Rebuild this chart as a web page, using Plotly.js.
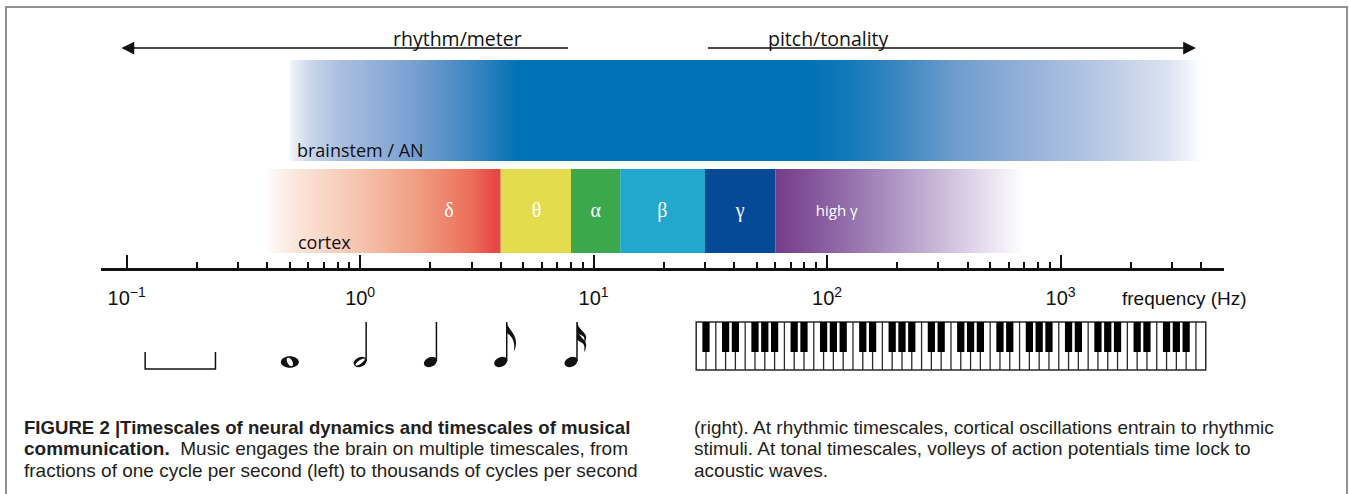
<!DOCTYPE html>
<html><head><meta charset="utf-8">
<script src="https://cdn.plot.ly/plotly-3.0.1.min.js"></script>
<style>html,body{margin:0;padding:0;background:#fff}#chart{width:1349px;height:494px}</style>
</head><body><div id="chart"></div>
<script>
// ---------------- data ----------------
const bandNames   = ['δ', 'θ', 'α', 'β', 'γ', 'high γ'];
const bandLowHz   = [0.4, 4, 8, 13, 30, 60];
const bandHighHz  = [4, 8, 13, 30, 60, 700];
const bandColors  = ['#e64a45', '#e3dd4d', '#3ba84e', '#22a8cd', '#054a96', '#763c8a'];
const bandLabelHz = [2.4, 5.7, 10.2, 19.7, 42.4, 110];
const brainstemHz = [0.5, 4000];
const decadeTicks  = [0.1, 1, 10, 100, 1000];
const decadeLabels = ['10<sup>−1</sup>', '10<sup>0</sup>', '10<sup>1</sup>', '10<sup>2</sup>', '10<sup>3</sup>'];
const minorTicks = [0.2, 0.3, 0.4, 0.5, 0.6, 0.7, 0.8, 0.9,
                    2, 3, 4, 5, 6, 7, 8, 9,
                    20, 30, 40, 50, 60, 70, 80, 90,
                    200, 300, 400, 500, 600, 700, 800, 900,
                    2000, 3000, 4000];
const noteHz    = [0.5, 1, 2, 4, 8];
const noteKinds = ['whole', 'half', 'quarter', 'eighth', 'sixteenth'];
const measureHz = [0.12, 0.24];
const pianoHz   = [27.5, 4186];   // A0 .. C8
const pianoWhiteKeys = 52;
const rhythmArrowHz = [8, 0.095];  // tail, head
const pitchArrowHz  = [30, 3800];

// ---------------- geometry helpers ----------------
const W = 1349, H = 494, ML = 101, MR = 125;
const LOGMIN = -1.11, LOGMAX = 3.70;
const PW = W - ML - MR;
const PPD = PW / (LOGMAX - LOGMIN);
const lg = Math.log10;
const L = px => LOGMIN + (px - ML) / PPD;          // pixel x -> log10 units (x2)
const PX = hz => ML + (lg(hz) - LOGMIN) * PPD;     // Hz -> pixel x
const paperX = px => (px - ML) / PW;

const BAND_TOP = 60, BAND_BOT = 161, CTX_TOP = 169, CTX_BOT = 253, AXIS_Y = 269;
const sansUI = 'Open Sans, Liberation Sans, sans-serif';
const helv = 'Liberation Sans, Arial, sans-serif';

// ---------------- traces ----------------
const traces = [];
function rectTrace(x0, x1, y0, y1, extra) {
  return Object.assign({
    type: 'scatter', mode: 'lines', x: [x0, x1, x1, x0, x0], y: [y0, y0, y1, y1, y0],
    fill: 'toself', line: {width: 0}, hoverinfo: 'skip', xaxis: 'x', yaxis: 'y'
  }, extra);
}
traces.push(rectTrace(brainstemHz[0], brainstemHz[1], BAND_TOP, BAND_BOT, {
  fillgradient: {type: 'horizontal', colorscale: [
    [0, '#f2f5fa'], [0.023, '#c9d6eb'], [0.055, '#aabfe0'], [0.094, '#93b0d9'], [0.133, '#7aa1d1'],
    [0.172, '#5991c7'], [0.212, '#2f82bf'], [0.251, '#0071b4'], [0.57, '#0071b4'], [0.614, '#137ab9'],
    [0.668, '#3b86c1'], [0.731, '#6f9dcc'], [0.816, '#98b3da'], [0.899, '#bccbe5'], [0.963, '#dbe3f1'], [1, '#fcfdfe']]}
}));
for (let i = 0; i < bandNames.length; i++) {
  const extra = {};
  if (i === 0) {
    extra.fillgradient = {type: 'horizontal', colorscale: [
      [0, '#fffbf9'], [0.14, '#fbe3d8'], [0.39, '#f6c4ae'], [0.65, '#f09c80'], [0.87, '#eb7059'], [0.97, '#e64a45'], [1, '#e64a45']]};
  } else if (i === bandNames.length - 1) {
    extra.fillgradient = {type: 'horizontal', colorscale: [
      [0, '#763c8a'], [0.15, '#84559a'], [0.35, '#9b7bb3'], [0.55, '#b9a3cc'], [0.75, '#d8cbe4'], [0.9, '#efeaf4'], [1, '#ffffff']]};
  } else {
    extra.fillcolor = bandColors[i];
  }
  traces.push(rectTrace(bandLowHz[i], bandHighHz[i], CTX_TOP, CTX_BOT, extra));
}
traces.push({
  type: 'scatter', mode: 'text', x: bandLabelHz.slice(0, 5), y: bandLabelHz.slice(0, 5).map(() => 212),
  text: bandNames.slice(0, 5), textfont: {family: 'Liberation Serif, serif', size: 20, color: '#ffffff'},
  hoverinfo: 'skip', xaxis: 'x', yaxis: 'y'
});
traces.push({
  type: 'scatter', mode: 'text', x: [bandLabelHz[5]], y: [212], text: [bandNames[5]],
  textfont: {family: sansUI, size: 15, color: '#ffffff'}, hoverinfo: 'skip', xaxis: 'x', yaxis: 'y'
});

// ---------------- shapes ----------------
const shapes = [];
const P = (x, y) => L(x).toFixed(5) + ',' + y.toFixed(2);
function ellipsePath(cx, cy, rx, ry, rot, rev) {
  const k = 0.5523, a = rot * Math.PI / 180, c = Math.cos(a), s = Math.sin(a);
  const T = (x, y) => { if (rev) y = -y; return P(cx + x * c - y * s, cy + x * s + y * c); };
  const segs = [
    [[rx, k * ry], [k * rx, ry], [0, ry]],
    [[-k * rx, ry], [-rx, k * ry], [-rx, 0]],
    [[-rx, -k * ry], [-k * rx, -ry], [0, -ry]],
    [[k * rx, -ry], [rx, -k * ry], [rx, 0]]
  ];
  return 'M' + T(rx, 0) + segs.map(sg => 'C' + sg.map(p => T(p[0], p[1])).join(' ')).join('') + 'Z';
}
const ink = '#111111';
// border of the figure
shapes.push({type: 'rect', xref: 'paper', yref: 'paper', x0: paperX(6), x1: paperX(1347), y0: -0.1, y1: 1 - 7 / H,
  line: {color: '#6e6e6e', width: 1.5}, fillcolor: 'rgba(0,0,0,0)', layer: 'below'});
// measure bracket
{
  const a = PX(measureHz[0]), b = PX(measureHz[1]);
  shapes.push({type: 'path', xref: 'x2', yref: 'y',
    path: 'M' + P(a, 352) + 'L' + P(a, 369) + 'L' + P(b, 369) + 'L' + P(b, 352),
    line: {color: ink, width: 1.5}});
}
// notes
const NOTE_Y = 362, STEM_TOP = 322;
noteKinds.forEach((kind, i) => {
  const cx = PX(noteHz[i]);
  if (kind === 'whole') {
    shapes.push({type: 'path', xref: 'x2', yref: 'y', fillrule: 'evenodd',
      path: ellipsePath(cx, NOTE_Y, 9, 5.8, 0, false) + ellipsePath(cx, NOTE_Y, 4.6, 2.5, 60, true),
      fillcolor: ink, line: {width: 0}});
    return;
  }
  let head = ellipsePath(cx, NOTE_Y, 6.8, 4.7, -25, false);
  if (kind === 'half') head += ellipsePath(cx, NOTE_Y, 5.6, 1.7, -35, true);
  shapes.push({type: 'path', xref: 'x2', yref: 'y', fillrule: 'evenodd', path: head, fillcolor: ink, line: {width: 0}});
  const sx = cx + 6;
  shapes.push({type: 'line', xref: 'x2', yref: 'y', x0: L(sx), x1: L(sx), y0: NOTE_Y - 1, y1: STEM_TOP, line: {color: ink, width: 1.5}});
  const flag = (t, len) => 'M' + P(sx, t) + 'C' + P(sx + 1, t + 8) + ' ' + P(sx + 11, t + 11) + ' ' + P(sx + 9, t + len - 5) +
    'C' + P(sx + 8.6, t + len - 3) + ' ' + P(sx + 8, t + len - 1) + ' ' + P(sx + 7, t + len) +
    'C' + P(sx + 9, t + len - 9) + ' ' + P(sx + 5, t + 14) + ' ' + P(sx, t + 11) + 'Z';
  if (kind === 'eighth') shapes.push({type: 'path', xref: 'x2', yref: 'y', path: flag(STEM_TOP, 29), fillcolor: ink, line: {width: 0}});
  if (kind === 'sixteenth') {
    shapes.push({type: 'path', xref: 'x2', yref: 'y', path: flag(STEM_TOP, 22), fillcolor: ink, line: {width: 0}});
    shapes.push({type: 'path', xref: 'x2', yref: 'y', path: flag(STEM_TOP + 7, 23), fillcolor: ink, line: {width: 0}});
  }
});
// piano keyboard (A0..C8 on the frequency axis)
{
  const l0 = lg(pianoHz[0]), l1 = lg(pianoHz[1]);
  const kw = (l1 - l0) / pianoWhiteKeys;
  const top = 322, bot = 370, bbot = 352;
  shapes.push({type: 'rect', xref: 'x2', yref: 'y', x0: l0, x1: l1, y0: top, y1: bot, fillcolor: '#ffffff', line: {color: '#2a2a2a', width: 1.5}});
  for (let i = 1; i < pianoWhiteKeys; i++) {
    shapes.push({type: 'line', xref: 'x2', yref: 'y', x0: l0 + i * kw, x1: l0 + i * kw, y0: top, y1: bot, line: {color: '#2a2a2a', width: 1.3}});
  }
  const names = ['A', 'B', 'C', 'D', 'E', 'F', 'G'];
  for (let i = 0; i < pianoWhiteKeys - 1; i++) {
    const n = names[i % 7];
    if (n === 'B' || n === 'E') continue;
    const c = l0 + (i + 1) * kw;
    shapes.push({type: 'rect', xref: 'x2', yref: 'y', x0: c - 0.37 * kw, x1: c + 0.37 * kw, y0: top, y1: bbot, fillcolor: '#000000', line: {width: 0}});
  }
}

// ---------------- annotations ----------------
const annotations = [];
const txt = (x, y, text, size, family, anchor, extra) => Object.assign({
  xref: 'x2', yref: 'y', x: x, y: y, text: text, showarrow: false, xanchor: anchor || 'center', yanchor: 'middle',
  font: {family: family, size: size, color: '#111'}
}, extra || {});
annotations.push({xref: 'x2', yref: 'y', axref: 'x2', ayref: 'y', x: lg(rhythmArrowHz[1]), y: 48, ax: lg(rhythmArrowHz[0]), ay: 48,
  text: ' ', showarrow: true, arrowhead: 2, arrowsize: 1.7, arrowwidth: 1.5, arrowcolor: ink, standoff: 0, startstandoff: 0});
annotations.push({xref: 'x2', yref: 'y', axref: 'x2', ayref: 'y', x: lg(pitchArrowHz[1]), y: 48, ax: lg(pitchArrowHz[0]), ay: 48,
  text: ' ', showarrow: true, arrowhead: 2, arrowsize: 1.7, arrowwidth: 1.5, arrowcolor: ink, standoff: 0, startstandoff: 0});
annotations.push(txt(L(457), 38, 'rhythm/meter', 19.5, sansUI));
annotations.push(txt(L(828), 38, 'pitch/tonality', 19.5, sansUI));
annotations.push(txt(L(295), 150, 'brainstem / AN', 18, sansUI, 'left'));
annotations.push(txt(L(296), 242, 'cortex', 18, sansUI, 'left'));
annotations.push(txt(L(1120), 298, 'frequency (Hz)', 19, helv, 'left'));

const capFont = {family: helv, size: 19, color: '#231f20'};
const capLeft = [
  '<b>FIGURE 2 |Timescales of neural dynamics and timescales of musical</b>',
  '<b>communication.</b>\u00a0\u00a0Music engages the brain on multiple timescales, from',
  'fractions of one cycle per second (left) to thousands of cycles per second'
];
const capRight = [
  '(right). At rhythmic timescales, cortical oscillations entrain to rhythmic',
  'stimuli. At tonal timescales, volleys of action potentials time lock to',
  'acoustic waves.'
];
const capY = [427, 448.5, 470];
capLeft.forEach((t, i) => annotations.push({xref: 'paper', yref: 'y', x: paperX(22), y: capY[i], text: t, showarrow: false,
  xanchor: 'left', yanchor: 'middle', font: Object.assign({}, capFont, {size: i === 0 ? 18.6 : 19})}));
capRight.forEach((t, i) => annotations.push({xref: 'paper', yref: 'y', x: paperX(692), y: capY[i], text: t, showarrow: false,
  xanchor: 'left', yanchor: 'middle', font: capFont}));

// ---------------- layout ----------------
const layout = {
  width: W, height: H, margin: {l: ML, r: MR, t: 0, b: 0},
  paper_bgcolor: '#ffffff', plot_bgcolor: 'rgba(0,0,0,0)', showlegend: false,
  xaxis: {
    type: 'log', range: [LOGMIN, LOGMAX], domain: [0, 1], anchor: 'free', position: 1 - AXIS_Y / H,
    showline: true, linewidth: 3, linecolor: ink, showgrid: false, zeroline: false,
    ticks: 'inside', ticklen: 13, tickwidth: 2, tickcolor: ink,
    tickmode: 'array', tickvals: decadeTicks, ticktext: decadeLabels,
    tickfont: {family: helv, size: 20, color: ink}, ticklabelstandoff: 10,
    minor: {tickmode: 'array', tickvals: minorTicks, ticks: 'inside', ticklen: 6, tickwidth: 2, tickcolor: ink, showgrid: false},
    fixedrange: true
  },
  xaxis2: {overlaying: 'x', range: [LOGMIN, LOGMAX], visible: false, anchor: 'y', fixedrange: true},
  yaxis: {range: [H, 0], domain: [0, 1], visible: false, fixedrange: true},
  shapes: shapes, annotations: annotations
};
// dummy trace so xaxis2 exists
traces.push({type: 'scatter', mode: 'markers', x: [0], y: [-100], xaxis: 'x2', yaxis: 'y', marker: {opacity: 0}, hoverinfo: 'skip'});

Plotly.newPlot('chart', traces, layout, {staticPlot: true, displayModeBar: false});
</script>
</body></html>
